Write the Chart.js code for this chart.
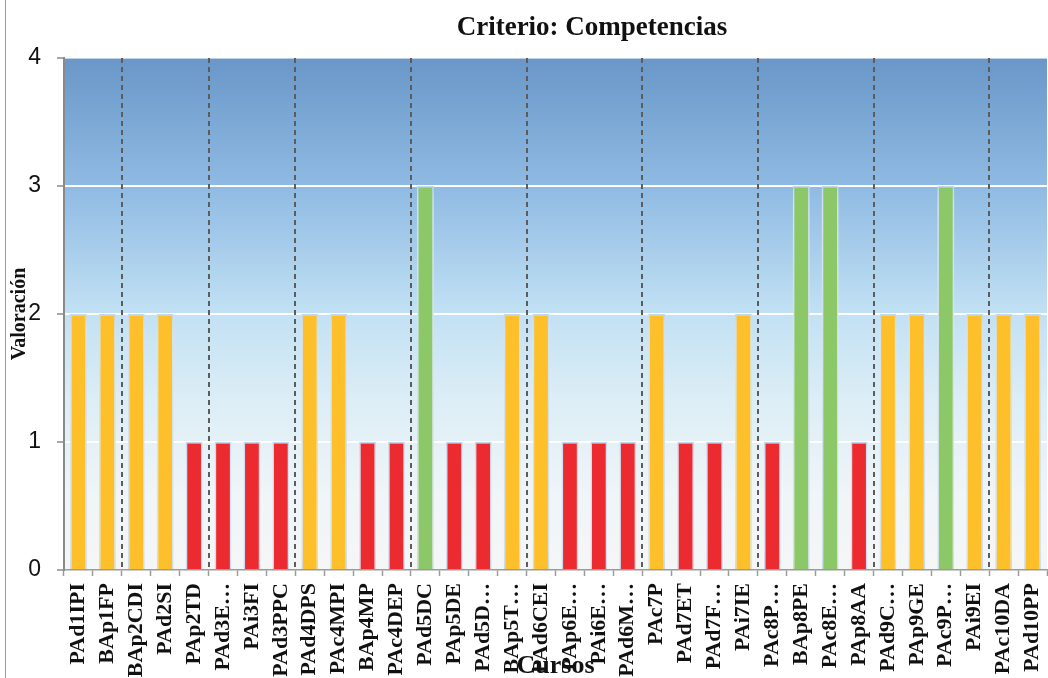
<!DOCTYPE html>
<html lang="es">
<head>
<meta charset="utf-8">
<title>Criterio: Competencias</title>
<script src="https://cdn.jsdelivr.net/npm/chart.js@4.4.0/dist/chart.umd.min.js"></script>
<style>
    html, body { margin: 0; padding: 0; background: #fff; }
    #wrap { position: relative; width: 1048px; height: 678px; }
    #frame { position: absolute; left: 5px; top: 0; width: 1px; height: 678px; background: #9a9a9a; }
</style>
</head>
<body>
<div id="wrap">
    <div id="frame"></div>
    <canvas id="competencias"></canvas>
</div>
<script>
// --- Datos ---
const cursos = [
    'PAd1IPI', 'BAp1FP', 'BAp2CDI', 'PAd2SI', 'PAp2TD', 'PAd3E…', 'PAi3FI', 'PAd3PPC',
    'PAd4DPS', 'PAc4MPI', 'BAp4MP', 'PAc4DEP', 'PAd5DC', 'PAp5DE', 'PAd5D…', 'BAp5T…',
    'PAd6CEI', 'PAp6E…', 'PAi6E…', 'PAd6M…', 'PAc7P', 'PAd7ET', 'PAd7F…', 'PAi7IE',
    'PAc8P…', 'BAp8PE', 'PAc8E…', 'PAp8AA', 'PAd9C…', 'PAp9GE', 'PAc9P…', 'PAi9EI',
    'PAc10DA', 'PAd10PP'
];
const valoracion = [
    2, 2, 2, 2, 1, 1, 1, 1,
    2, 2, 1, 1, 3, 1, 1, 2,
    2, 1, 1, 1, 2, 1, 1, 2,
    1, 3, 3, 1, 2, 2, 3, 2,
    2, 2
];
const yTicks = [0, 1, 2, 3, 4];

// color de cada barra segun la valoracion
const colorPorNivel = { 1: '#ec2b31', 2: '#fdc02a', 3: '#8dc868' };

// fondo degradado del area de grafico
const fondoPlugin = {
    id: 'fondo',
    beforeDraw(chart) {
        const { ctx, chartArea: a } = chart;
        const g = ctx.createLinearGradient(0, a.top, 0, a.bottom);
        g.addColorStop(0, '#6a97c8');
        g.addColorStop(0.25, '#8fbae3');
        g.addColorStop(0.5, '#c2e1f4');
        g.addColorStop(0.66, '#dbedf6');
        g.addColorStop(0.85, '#eff5f8');
        g.addColorStop(1, '#f5f6f6');
        ctx.save();
        ctx.fillStyle = g;
        ctx.fillRect(a.left, a.top, a.right - a.left, a.bottom - a.top);
        ctx.restore();
    }
};

// brillo blanco alrededor de las barras
const brilloPlugin = {
    id: 'brillo',
    beforeDatasetsDraw(chart) {
        const ctx = chart.ctx;
        ctx.save();
        ctx.shadowColor = 'rgba(255,255,255,1)';
        ctx.shadowBlur = 22;
    },
    afterDatasetsDraw(chart) {
        chart.ctx.restore();
    }
};

// lineas discontinuas entre cursos de distinto numero
const separadorPlugin = {
    id: 'separador',
    afterDatasetsDraw(chart) {
        const { ctx, chartArea: a, scales: { x } } = chart;
        const grupo = cursos.map(c => c.match(/\d+/)[0]);
        ctx.save();
        ctx.strokeStyle = '#5c5c5c';
        ctx.lineWidth = 2;
        ctx.setLineDash([5, 4]);
        for (let i = 1; i < grupo.length; i++) {
            if (grupo[i] === grupo[i - 1]) continue;
            const px = Math.round((x.getPixelForValue(i - 1) + x.getPixelForValue(i)) / 2);
            ctx.beginPath();
            ctx.moveTo(px, a.top);
            ctx.lineTo(px, a.bottom);
            ctx.stroke();
        }
        ctx.restore();
    }
};

// titulo principal
const tituloPlugin = {
    id: 'titulo',
    afterDraw(chart) {
        const ctx = chart.ctx;
        ctx.save();
        ctx.font = 'bold 27px "Liberation Serif", "Times New Roman", serif';
        ctx.fillStyle = '#111';
        ctx.textAlign = 'center';
        ctx.textBaseline = 'alphabetic';
        ctx.fillText('Criterio: Competencias', 592, 35);
        ctx.restore();
    }
};

const ctx = document.getElementById('competencias').getContext('2d');

new Chart(ctx, {
    type: 'bar',
    data: {
        labels: cursos,
        datasets: [{
            label: 'Valoración',
            data: valoracion,
            backgroundColor: c => colorPorNivel[c.raw],
            borderColor: '#b8cfe8',
            borderWidth: 1.5,
            borderSkipped: 'bottom',
            barPercentage: 0.58,
            categoryPercentage: 1.0
        }]
    },
    options: {
        responsive: true,
        maintainAspectRatio: false,
        animation: false,
        layout: { padding: { top: 58, right: 1, left: 0, bottom: 0 } },
        plugins: {
            legend: { display: false },
            title: { display: false },
            tooltip: { enabled: false }
        },
        scales: {
            x: {
                offset: true,
                grid: {
                    offset: true,
                    drawOnChartArea: false,
                    tickColor: '#9a9a9a',
                    tickLength: 6,
                    tickWidth: 1.5
                },
                border: { color: '#9a9a9a', width: 1.5 },
                ticks: {
                    autoSkip: false,
                    minRotation: 90,
                    maxRotation: 90,
                    padding: 7,
                    color: '#111',
                    font: { family: '"Liberation Serif", "Times New Roman", serif', size: 22, weight: 'bold' }
                },
                title: {
                    display: true,
                    text: 'Cursos',
                    color: '#111',
                    padding: { top: 0, bottom: -4 },
                    font: { family: '"Liberation Serif", "Times New Roman", serif', size: 26, weight: 'bold' }
                },
                afterFit(scale) {
                    scale.height = 108;
                    scale.paddingLeft = 0;
                    scale.paddingRight = 0;
                }
            },
            y: {
                min: 0,
                max: 4,
                afterBuildTicks(scale) { scale.ticks = yTicks.map(v => ({ value: v })); },
                grid: {
                    color: c => (c.tick.value === 0 ? 'rgba(0,0,0,0)' : (c.tick.value === 4 ? 'rgba(255,255,255,0.55)' : '#ffffff')),
                    lineWidth: 2,
                    tickColor: '#8a8a8a',
                    tickLength: 7,
                    tickWidth: 1.5
                },
                border: { color: '#8a8a8a', width: 2 },
                ticks: {
                    padding: 16,
                    color: '#111',
                    font: { family: '"Liberation Sans", Arial, sans-serif', size: 23 }
                },
                title: {
                    display: true,
                    text: 'Valoración',
                    color: '#111',
                    padding: { top: 8, bottom: 0 },
                    font: { family: '"Liberation Serif", "Times New Roman", serif', size: 20, weight: 'bold' }
                },
                afterFit(scale) {
                    scale.width = 64;
                    scale.paddingTop = 0;
                    scale.paddingBottom = 0;
                }
            }
        }
    },
    plugins: [fondoPlugin, brilloPlugin, separadorPlugin, tituloPlugin]
});
</script>
</body>
</html>
